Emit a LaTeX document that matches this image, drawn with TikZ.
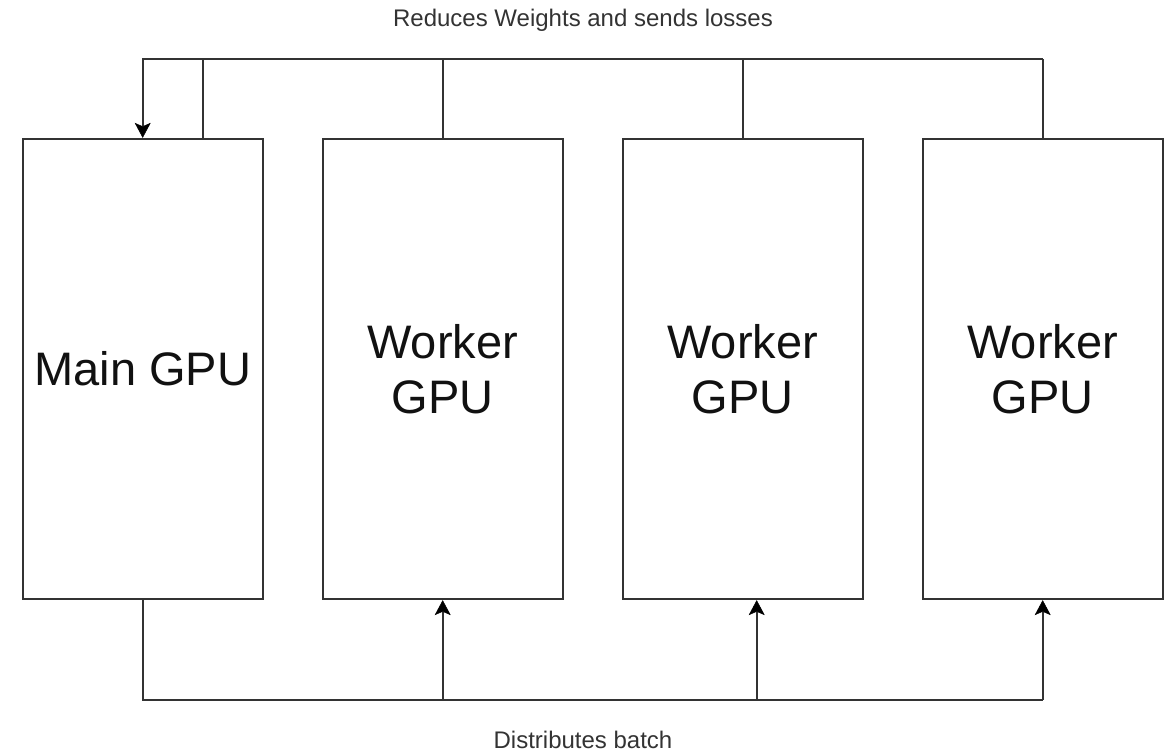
\documentclass[tikz,border=0pt]{standalone}
\usepackage{fontspec}
\setmainfont{Liberation Sans}
\usetikzlibrary{arrows.meta,calc}
\definecolor{ink}{HTML}{333333}
\definecolor{txt}{HTML}{111111}
\begin{document}
\begin{tikzpicture}[x=1pt,y=-1pt,
  gpubox/.style={draw=ink,line width=2pt,minimum width=240pt,minimum height=460.3pt,inner sep=0pt,align=center,text=txt,font=\fontsize{47}{55}\selectfont},
  wire/.style={draw=ink,line width=2pt},
  arr/.style={wire,-{Stealth[length=15pt,width=16pt,inset=3.5pt,fill=black,color=black,line width=0.5pt]}},
  lbl/.style={text=ink,anchor=base,font=\fontsize{24}{28}\selectfont}]
\useasboundingbox (0,0) rectangle (1172,751);
\node[gpubox] (main) at (142.7,369) {Main GPU};
\node[gpubox] (w1) at (442.7,369) {Worker\\GPU};
\node[gpubox] (w2) at (742.7,369) {Worker\\GPU};
\node[gpubox] (w3) at (1042.7,369) {Worker\\GPU};
\coordinate (tl) at (142.7,59);
\coordinate (tr) at (1042.7,59);
\coordinate (bl) at (142.7,699.5);
\coordinate (br) at (1042.7,699.5);
\coordinate (b2) at (756.7,699.5);
% top: reduce
\draw[wire] ($(main.north)+(60,0)$) |- (tl);
\draw[wire] (w1.north) -- (w1.north |- tl);
\draw[wire] (w2.north) -- (w2.north |- tl);
\draw[wire] (w3.north) -- (tr);
\draw[arr] (tr) -- (tl) -- (main.north);
% bottom: distribute
\draw[wire] (main.south) -- (bl) -- (br);
\draw[arr] (br) -- (w3.south);
\draw[arr] (w1.south |- bl) -- (w1.south);
\draw[arr] (b2) -- ($(w2.south)+(14,0)$);
\node[lbl] (top) at (583,27) {Reduces Weights and sends losses};
\node[lbl] (bot) at (583,748) {Distributes batch};
\end{tikzpicture}
\end{document}
